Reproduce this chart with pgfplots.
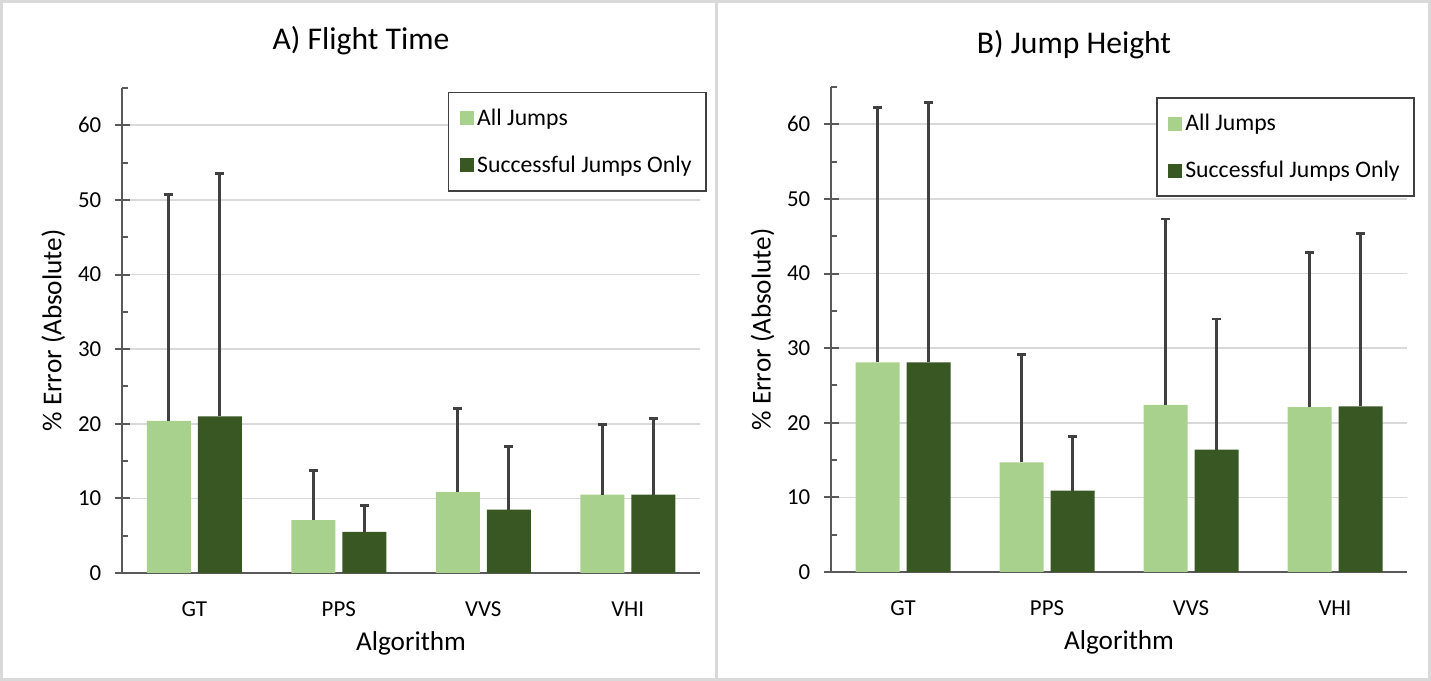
\documentclass[border=0pt]{standalone}
\usepackage{fontspec}
\setmainfont{Carlito}
\usepackage{pgfplots}
\usepackage{pgfplotstable}
\pgfplotsset{compat=1.18}

\definecolor{allj}{HTML}{A9D18E}
\definecolor{succ}{HTML}{385723}
\definecolor{errc}{HTML}{404040}
\definecolor{axc}{HTML}{595959}
\definecolor{gridc}{HTML}{D9D9D9}

% x: 0=GT 1=PPS 2=VVS 3=VHI ; err = upper error bar length
\pgfplotstableread{
x y err
0 20.4 30.3
1 7.1 6.6
2 10.85 11.2
3 10.5 9.4
}\ftall
\pgfplotstableread{
x y err
0 21.0 32.5
1 5.5 3.6
2 8.5 8.4
3 10.5 10.25
}\ftsucc
\pgfplotstableread{
x y err
0 28.1 34.1
1 14.7 14.4
2 22.4 24.9
3 22.1 20.7
}\jhall
\pgfplotstableread{
x y err
0 28.1 34.8
1 10.9 7.3
2 16.4 17.5
3 22.2 23.2
}\jhsucc

\pgfplotsset{
  jumpax/.style={
    scale only axis,
    height=9.7cm,
    ymin=0, ymax=65, xmin=-0.5, xmax=3.5,
    ybar=0.14cm, bar width=0.88cm,
    axis x line=bottom, axis y line=left,
    axis line style={axc, line width=1.1pt, -},
    xtick={0,1,2,3}, xticklabels={GT,PPS,VVS,VHI},
    x tick style={draw=none},
    ytick={0,10,...,60}, minor ytick={5,15,...,65},
    tick align=center,
    major tick length=0.3cm, minor tick length=0.12cm,
    y tick style={axc, line width=1.1pt},
    minor y tick style={xshift=0.06cm},
    ymajorgrids, grid style={gridc, line width=1pt},
    /pgf/number format/assume math mode=true,
    tick label style={font=\fontsize{13}{15}\selectfont, black},
    xticklabel style={yshift=-0.3cm},
    yticklabel style={xshift=-0.14cm},
    label style={font=\fontsize{15.5}{18}\selectfont},
    xlabel={Algorithm},
    ylabel={\% Error (Absolute)},
    xlabel style={at={(axis description cs:0.5,-0.146)}, anchor=center},
    ylabel style={at={(axis description cs:-0.119,0.5)}, anchor=center},
    legend cell align=left,
    legend image code/.code={\fill[##1,draw=none] (-0.1cm,-0.14cm) rectangle (0.18cm,0.14cm);},
    legend style={draw=errc, line width=0.9pt, font=\fontsize{13.5}{15}\selectfont,
      row sep=0.42cm, inner xsep=0.22cm, inner ysep=0.25cm},
    error bars/y dir=plus,
    error bars/y explicit,
    error bars/error bar style={draw=errc, line width=1.6pt},
    error bars/error mark=-,
    error bars/error mark options={rotate=90, draw=errc, line width=1.6pt, mark size=0.09cm},
  },
}

\begin{document}
\begin{tikzpicture}
\useasboundingbox (0,0) rectangle (28.62,13.62);
\draw[gridc, line width=0.06cm] (0.03,0.03) rectangle (28.59,13.59);
\draw[gridc, line width=0.06cm] (14.32,0.03) -- (14.32,13.59);

\node[anchor=base, font=\fontsize{18}{21}\selectfont] at (7.22,12.62) {A) Flight Time};
\node[anchor=base, font=\fontsize{18}{21}\selectfont] at (21.48,12.54) {B) Jump Height};

\begin{axis}[jumpax, at={(2.44cm,2.16cm)}, anchor=south west, width=11.56cm,
    legend style={at={(rel axis cs:1.012,0.992)}, anchor=north east}]
  \addplot[fill=allj, draw=none] table[x=x, y=y, y error=err] {\ftall};
  \addplot[fill=succ, draw=none] table[x=x, y=y, y error=err] {\ftsucc};
  \legend{All Jumps, Successful Jumps Only}
\end{axis}

\begin{axis}[jumpax, at={(16.62cm,2.18cm)}, anchor=south west, width=11.52cm,
    legend style={at={(rel axis cs:1.014,0.979)}, anchor=north east}]
  \addplot[fill=allj, draw=none] table[x=x, y=y, y error=err] {\jhall};
  \addplot[fill=succ, draw=none] table[x=x, y=y, y error=err] {\jhsucc};
  \legend{All Jumps, Successful Jumps Only}
\end{axis}
\end{tikzpicture}
\end{document}
